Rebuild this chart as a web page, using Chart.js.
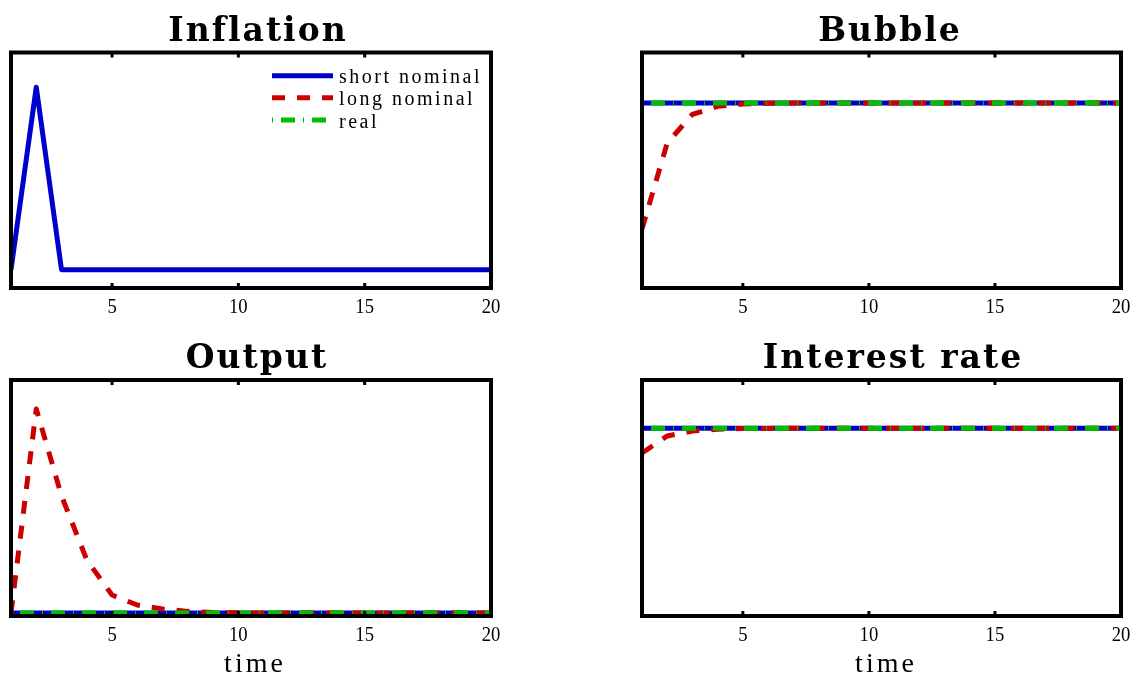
<!DOCTYPE html>
<html><head><meta charset="utf-8">
<script src="https://cdn.jsdelivr.net/npm/chart.js@4.4.0/dist/chart.umd.min.js"></script>
<style>
html,body{margin:0;padding:0;background:#fff;}
#wrap{position:relative;width:1141px;height:682px;overflow:hidden;background:#fff;}
canvas{position:absolute;left:0;top:0;}
</style></head><body><div id="wrap">
<canvas id="c0" width="1141" height="682"></canvas>
<canvas id="c1" width="1141" height="682"></canvas>
<canvas id="c2" width="1141" height="682"></canvas>
<canvas id="c3" width="1141" height="682"></canvas>
</div>
<script>
// ---------- data ----------
const time = [1,2,3,4,5,6,7,8,9,10,11,12,13,14,15,16,17,18,19,20];
const xTicks = [5,10,15,20];
const seriesNames = ['short nominal','long nominal','real'];
const panelTitles = ['Inflation','Bubble','Output','Interest rate'];
const xLabel = 'time';

const inflationShort = [0,1,0,0,0,0,0,0,0,0,0,0,0,0,0,0,0,0,0,0];

const bubbleShort = [0,0,0,0,0,0,0,0,0,0,0,0,0,0,0,0,0,0,0,0];
const bubbleLong  = [-1,-0.317,-0.09,-0.026,-0.0075,-0.002,-0.0006,-0.0002,0,0,0,0,0,0,0,0,0,0,0,0];
const bubbleReal  = [0,0,0,0,0,0,0,0,0,0,0,0,0,0,0,0,0,0,0,0];

const outputShort = [0,0,0,0,0,0,0,0,0,0,0,0,0,0,0,0,0,0,0,0];
const outputLong  = [0,1,0.574,0.26,0.088,0.039,0.02,0.008,0.003,0.001,0,0,0,0,0,0,0,0,0,0];
const outputReal  = [0,0,0,0,0,0,0,0,0,0,0,0,0,0,0,0,0,0,0,0];

const rateShort = [0,0,0,0,0,0,0,0,0,0,0,0,0,0,0,0,0,0,0,0];
const rateLong  = [-1,-0.31,-0.11,-0.036,-0.012,-0.004,-0.001,0,0,0,0,0,0,0,0,0,0,0,0,0];
const rateReal  = [0,0,0,0,0,0,0,0,0,0,0,0,0,0,0,0,0,0,0,0];

// ---------- layout / style ----------
const W = 1141, H = 682;
const panels = [
  {title: panelTitles[0], series: [inflationShort, null, null], area: {l: 11, r: 491, t: 52.5, b: 288}, y: [-0.1, 1.19], titleX: 257, legend: true, xlabel: false},
  {title: panelTitles[1], series: [bubbleShort, bubbleLong, bubbleReal], area: {l: 642, r: 1121, t: 52.5, b: 288}, y: [-1.468, 0.401], titleX: 889, legend: false, xlabel: false},
  {title: panelTitles[2], series: [outputShort, outputLong, outputReal], area: {l: 11, r: 491, t: 380, b: 616}, y: [-0.0147, 1.142], titleX: 256, legend: false, xlabel: true, labelX: 253.5},
  {title: panelTitles[3], series: [rateShort, rateLong, rateReal], area: {l: 642, r: 1121, t: 380, b: 616}, y: [-7.6, 1.955], titleX: 892, legend: false, xlabel: true, labelX: 884.5}
];
const styles = [
  {color: 'rgb(0,0,204)', dash: [], width: 5, order: 2},
  {color: 'rgb(204,0,0)', dash: [13,12], width: 5, order: 1},
  {color: 'rgb(0,191,0)', dash: [1,8,14,8], width: 5, order: 0}
];
const SERIF = '"Liberation Serif", "Times New Roman", serif';
const TITLE_FONT = 'bold 33px "DejaVu Serif", serif';

function spacedText(ctx, text, x, y, ls, align) {
  const supported = ('letterSpacing' in ctx);
  if (supported) {
    ctx.letterSpacing = ls + 'px';
    const w = ctx.measureText(text).width - ls;
    ctx.textAlign = 'left';
    ctx.fillText(text, align === 'center' ? x - w / 2 : x, y);
    ctx.letterSpacing = '0px';
  } else {
    let total = 0;
    const ws = [...text].map(c => ctx.measureText(c).width);
    ws.forEach(w => total += w);
    total += ls * (ws.length - 1);
    let cx = align === 'center' ? x - total / 2 : x;
    ctx.textAlign = 'left';
    [...text].forEach((c, i) => { ctx.fillText(c, cx, y); cx += ws[i] + ls; });
  }
}

function makePlugin(p) {
  return {
    id: 'decor',
    afterDatasetsDraw(chart) {
      const ctx = chart.ctx, a = chart.chartArea, xs = chart.scales.x;
      ctx.save();
      ctx.setLineDash([]);
      ctx.strokeStyle = '#000';
      ctx.lineWidth = 4;
      ctx.lineJoin = 'miter';
      ctx.strokeRect(a.left, a.top, a.right - a.left, a.bottom - a.top);
      ctx.lineWidth = 3;
      xTicks.forEach(v => {
        const px = xs.getPixelForValue(v);
        if (px < a.right - 3) {
          ctx.beginPath();
          ctx.moveTo(px, a.top); ctx.lineTo(px, a.top + 5);
          ctx.moveTo(px, a.bottom); ctx.lineTo(px, a.bottom - 5);
          ctx.stroke();
        }
      });
      ctx.fillStyle = '#000';
      ctx.font = '22px ' + SERIF;
      ctx.textBaseline = 'alphabetic';
      ctx.textAlign = 'center';
      xTicks.forEach(v => {
        const px = xs.getPixelForValue(v);
        ctx.save();
        ctx.translate(px, a.bottom + 25);
        ctx.scale(0.85, 1);
        ctx.fillText(String(v), 0, 0);
        ctx.restore();
      });
      ctx.font = TITLE_FONT;
      spacedText(ctx, p.title, p.titleX, a.top - 12, 2, 'center');
      if (p.xlabel) {
        ctx.font = '28px ' + SERIF;
        spacedText(ctx, xLabel, p.labelX, a.bottom + 56, 3, 'center');
      }
      if (p.legend) {
        const lx0 = 272, lx1 = 333, tx = 339;
        const rowsY = [75.7, 97.7, 120];
        ctx.font = '20px ' + SERIF;
        seriesNames.forEach((name, i) => {
          const s = styles[i];
          ctx.save();
          ctx.strokeStyle = s.color;
          ctx.lineWidth = s.width;
          ctx.lineCap = 'butt';
          ctx.setLineDash(s.dash);
          ctx.beginPath();
          ctx.moveTo(lx0, rowsY[i]); ctx.lineTo(lx1, rowsY[i]);
          ctx.stroke();
          ctx.restore();
          ctx.fillStyle = '#000';
          spacedText(ctx, name, tx, rowsY[i] + 7.6, 2.5, 'left');
        });
      }
      ctx.restore();
    }
  };
}

panels.forEach((p, idx) => {
  const datasets = [];
  p.series.forEach((vals, i) => {
    if (!vals) return;
    const s = styles[i];
    datasets.push({
      label: seriesNames[i],
      data: time.map((t, k) => ({x: t, y: vals[k]})),
      borderColor: s.color,
      backgroundColor: s.color,
      borderWidth: s.width,
      borderDash: s.dash,
      borderCapStyle: 'butt',
      borderJoinStyle: 'round',
      order: s.order,
      pointRadius: 0,
      tension: 0,
      fill: false
    });
  });
  new Chart(document.getElementById('c' + idx), {
    type: 'line',
    data: {datasets},
    options: {
      responsive: false,
      animation: false,
      devicePixelRatio: 1,
      layout: {padding: {left: p.area.l, right: W - p.area.r, top: p.area.t, bottom: H - p.area.b}},
      plugins: {legend: {display: false}, tooltip: {enabled: false}, title: {display: false}},
      scales: {
        x: {type: 'linear', min: 1, max: 20, display: false},
        y: {type: 'linear', min: p.y[0], max: p.y[1], display: false}
      }
    },
    plugins: [makePlugin(p)]
  });
});
</script>
</body></html>
